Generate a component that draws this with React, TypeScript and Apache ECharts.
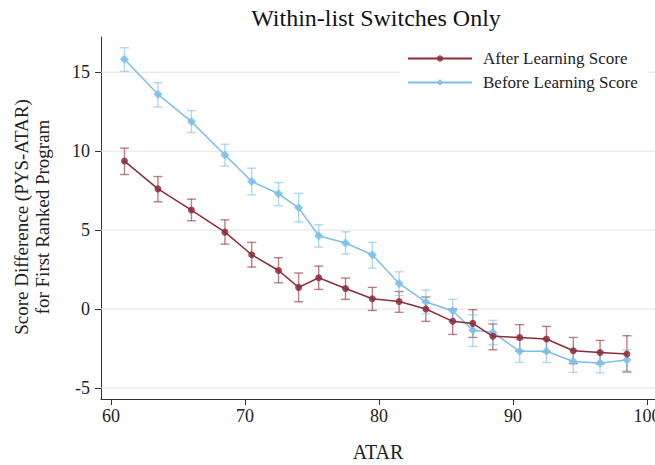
import React, { useEffect, useRef } from "react";
import * as echarts from "echarts";

// ATAR bin midpoints
const atar = [61.0, 63.5, 66.0, 68.5, 70.5, 72.5, 74.0, 75.5, 77.5, 79.5, 81.5, 83.5, 85.5, 87.0, 88.5, 90.5, 92.5, 94.5, 96.5, 98.5];

// After Learning Score: mean and 95% CI
const afterMean = [9.37, 7.61, 6.27, 4.87, 3.44, 2.44, 1.37, 1.98, 1.30, 0.65, 0.48, 0.0, -0.78, -0.91, -1.73, -1.80, -1.90, -2.64, -2.75, -2.85];
const afterLow = [8.52, 6.79, 5.59, 4.11, 2.66, 1.66, 0.46, 1.24, 0.61, -0.09, -0.21, -0.78, -1.61, -1.80, -2.58, -2.64, -2.72, -3.46, -3.48, -3.99];
const afterHigh = [10.19, 8.39, 6.96, 5.65, 4.22, 3.25, 2.28, 2.72, 1.96, 1.37, 1.11, 0.76, 0.0, -0.04, -0.95, -0.99, -1.10, -1.80, -1.99, -1.69];

// Before Learning Score: mean and 95% CI
const beforeMean = [15.82, 13.6, 11.87, 9.75, 8.08, 7.30, 6.41, 4.64, 4.18, 3.44, 1.62, 0.44, -0.11, -1.35, -1.48, -2.68, -2.68, -3.32, -3.42, -3.23];
const beforeLow = [15.06, 12.8, 11.18, 9.05, 7.23, 6.54, 5.51, 3.92, 3.48, 2.59, 0.86, -0.30, -0.78, -2.37, -2.26, -3.38, -3.39, -4.01, -4.05, -3.92];
const beforeHigh = [16.55, 14.34, 12.57, 10.44, 8.92, 8.01, 7.32, 5.34, 4.89, 4.22, 2.36, 1.2, 0.61, -0.36, -0.72, -1.94, -1.94, -2.58, -2.68, -2.58];

const xTicks = [60, 70, 80, 90, 100];
const yTicks = [-5, 0, 5, 10, 15];

const X_MIN = 59.25;
const X_MAX = 100.6;
const Y_MIN = -5.7;
const Y_MAX = 17.23;

const RED = "#8E2C3A";
const BLUE = "#7DBFEA";
const FONT = "Liberation Serif";

function errorBars(name: string, color: string, low: number[], high: number[]) {
  return {
    type: "custom",
    name: name + " CI",
    z: 2,
    silent: true,
    data: atar.map((x, i) => [x, low[i], high[i]]),
    renderItem: (params: any, api: any) => {
      const x = api.value(0);
      const lo = api.coord([x, api.value(1)]);
      const hi = api.coord([x, api.value(2)]);
      const cap = 4.5;
      const style = { stroke: color, lineWidth: 1.4, opacity: 0.6 };
      return {
        type: "group",
        children: [
          { type: "line", shape: { x1: lo[0], y1: lo[1], x2: hi[0], y2: hi[1] }, style },
          { type: "line", shape: { x1: lo[0] - cap, y1: lo[1], x2: lo[0] + cap, y2: lo[1] }, style },
          { type: "line", shape: { x1: hi[0] - cap, y1: hi[1], x2: hi[0] + cap, y2: hi[1] }, style },
        ],
      };
    },
  };
}

export default function App() {
  const ref = useRef<HTMLDivElement>(null);

  useEffect(() => {
    if (!ref.current) return;
    const chart = echarts.init(ref.current, null, { renderer: "svg" });
    const labelStyle = { fontFamily: FONT, fontSize: 18, color: "#222" };
    chart.setOption({
      animation: false,
      backgroundColor: "#fff",
      textStyle: { fontFamily: FONT },
      grid: { left: 101, right: 0, top: 37, bottom: 66, outerBoundsMode: "none", containLabel: false },
      graphic: [
        {
          type: "text",
          x: 376,
          y: 18,
          style: {
            text: "Within-list Switches Only",
            font: `24px ${FONT}`,
            fill: "#111",
            align: "center",
            verticalAlign: "middle",
          },
        },
        {
          type: "text",
          x: 32,
          y: 217,
          rotation: Math.PI / 2,
          style: {
            text: "Score Difference (PYS-ATAR)\nfor First Ranked Program",
            font: `19px ${FONT}`,
            fill: "#222",
            align: "center",
            verticalAlign: "middle",
            lineHeight: 21,
          },
        },
      ],
      legend: {
        data: ["After Learning Score", "Before Learning Score"],
        orient: "vertical",
        left: 400,
        top: 41,
        padding: [9, 10, 9, 7],
        backgroundColor: "#fff",
        itemWidth: 64,
        itemHeight: 8,
        itemGap: 7,
        textStyle: { fontFamily: FONT, fontSize: 17, color: "#222", padding: [0, 0, 0, 6] },
      },
      xAxis: {
        type: "value",
        min: X_MIN,
        max: X_MAX,
        name: "ATAR",
        nameLocation: "middle",
        nameGap: 43,
        nameTextStyle: { fontFamily: FONT, fontSize: 20, color: "#222" },
        axisLine: { show: true, onZero: false, lineStyle: { color: "#333", width: 1 } },
        axisTick: { show: true, customValues: xTicks, length: 6, lineStyle: { color: "#333" } },
        axisLabel: { customValues: xTicks, margin: 8, ...labelStyle },
        splitLine: { show: false },
      },
      yAxis: {
        type: "value",
        min: Y_MIN,
        max: Y_MAX,
        axisLine: { show: true, onZero: false, lineStyle: { color: "#333", width: 1 } },
        axisTick: { show: true, customValues: yTicks, length: 6, lineStyle: { color: "#333" } },
        axisLabel: { customValues: yTicks, margin: 11, ...labelStyle },
        splitLine: { show: false },
      },
      series: [
        {
          // horizontal gridlines at the y tick values
          type: "custom",
          name: "grid",
          z: 1,
          silent: true,
          clip: false,
          data: yTicks.map((v) => [xTicks[0], v]),
          renderItem: (params: any, api: any) => {
            const left = api.coord([X_MIN, api.value(1)]);
            const right = api.coord([X_MAX, api.value(1)]);
            return {
              type: "line",
              shape: { x1: left[0], y1: left[1], x2: right[0], y2: right[1] },
              style: { stroke: "#e2e2e2", lineWidth: 1 },
            };
          },
        },
        errorBars("After Learning Score", RED, afterLow, afterHigh),
        errorBars("Before Learning Score", BLUE, beforeLow, beforeHigh),
        {
          type: "line",
          name: "After Learning Score",
          z: 4,
          data: atar.map((x, i) => [x, afterMean[i]]),
          symbol: "circle",
          symbolSize: 7,
          color: RED,
          lineStyle: { color: RED, width: 1.5 },
          itemStyle: { color: RED, opacity: 0.85 },
        },
        {
          type: "line",
          name: "Before Learning Score",
          z: 3,
          data: atar.map((x, i) => [x, beforeMean[i]]),
          symbol: "diamond",
          symbolSize: 9,
          color: BLUE,
          lineStyle: { color: BLUE, width: 1.5 },
          itemStyle: { color: BLUE, opacity: 0.9 },
        },
      ],
    });
    return () => chart.dispose();
  }, []);

  return (
    <div
      ref={ref}
      style={{ position: "fixed", left: 0, top: 0, width: 655, height: 465 }}
    />
  );
}
